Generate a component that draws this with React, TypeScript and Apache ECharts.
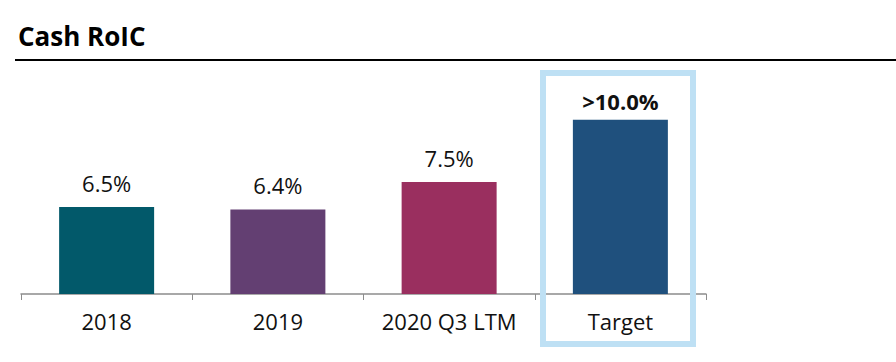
import React, { useEffect, useRef } from "react";
import * as echarts from "echarts";

const categories = ["2018", "2019", "2020 Q3 LTM", "Target"];
const values = [6.5, 6.4, 7.5, 10.0];
const valueLabels = ["6.5%", "6.4%", "7.5%", ">10.0%"];
const barColors = ["#02596A", "#633F72", "#9A2F5F", "#1F507D"];
const titleText = "Cash RoIC";

export default function App() {
  const ref = useRef<HTMLDivElement>(null);
  useEffect(() => {
    document.body.style.margin = "0";
    if (!ref.current) return;
    const chart = echarts.init(ref.current, null, { renderer: "svg" });
    const font = "'Open Sans', Lato, sans-serif";
    chart.setOption({
      animation: false,
      backgroundColor: "#ffffff",
      title: {
        text: titleText,
        left: 13,
        top: 18,
        textStyle: { fontFamily: font, fontSize: 26, fontWeight: "bold", color: "#000" },
      },
      grid: { left: 21, right: 190, top: 70, bottom: 68, containLabel: false },
      xAxis: {
        type: "category",
        data: categories,
        boundaryGap: true,
        axisLine: { lineStyle: { color: "#8c8c8c", width: 1.5 } },
        axisTick: { show: true, length: 6, lineStyle: { color: "#8c8c8c" } },
        axisLabel: {
          interval: 0,
          margin: 16,
          fontFamily: font,
          fontSize: 22,
          color: "#111",
        },
      },
      yAxis: {
        type: "value",
        min: 3,
        max: 12,
        show: false,
        splitLine: { show: false },
      },
      series: [
        {
          type: "bar",
          barWidth: 95,
          data: values.map((v, i) => ({
            value: v,
            itemStyle: { color: barColors[i] },
            label: {
              show: true,
              position: "top",
              distance: i === 3 ? 8 : 13,
              formatter: valueLabels[i],
              fontFamily: font,
              fontSize: 22,
              fontWeight: i === 3 ? "bold" : "normal",
              color: "#111",
            },
          })),
        },
      ],
      graphic: [
        {
          type: "line",
          shape: { x1: 15, y1: 60, x2: 896, y2: 60 },
          style: { stroke: "#000", lineWidth: 2 },
        },
        {
          type: "rect",
          shape: { x: 543, y: 73, width: 150, height: 271 },
          style: { fill: "none", stroke: "#BEE0F4", lineWidth: 6 },
          z: 100,
        },
      ],
    });
    return () => chart.dispose();
  }, []);
  return <div ref={ref} style={{ width: 896, height: 362 }} />;
}
